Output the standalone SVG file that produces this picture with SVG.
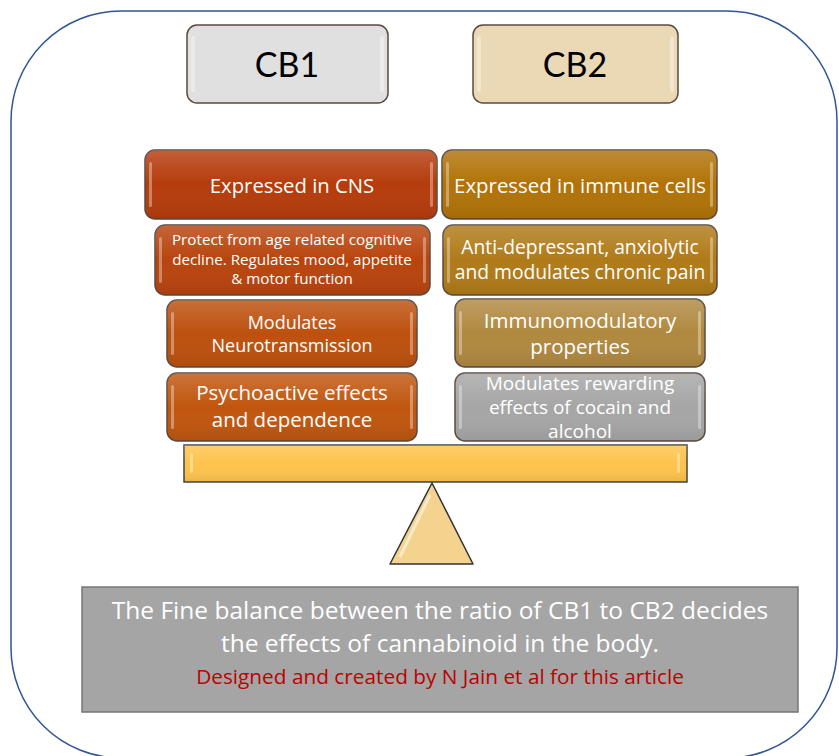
<svg xmlns="http://www.w3.org/2000/svg" width="839" height="756" viewBox="0 0 839 756">
<defs>
<style>
.t{font-family:"Open Sans","Noto Sans","Liberation Sans",sans-serif;text-anchor:middle;fill:#ffffff}
.c{font-family:Lato,"Liberation Sans",sans-serif;text-anchor:middle;fill:#000000}
.box{stroke:#5a4a40;stroke-width:1.5}
.hl{fill:#ffffff;opacity:0.35}
</style>
<linearGradient id="gloss" x1="0" y1="0" x2="0" y2="1">
<stop offset="0" stop-color="#ffffff" stop-opacity="0.18"/>
<stop offset="0.5" stop-color="#ffffff" stop-opacity="0"/>
<stop offset="1" stop-color="#000000" stop-opacity="0.08"/>
</linearGradient>
</defs>
<rect x="11" y="11" width="826" height="747" rx="110" ry="110" fill="none" stroke="#2f5597" stroke-width="1.5"/>
<g id="connectors"></g>
<g id="cb1">
<rect class="box" x="187" y="25" width="201" height="78" rx="10" fill="#e0e0e0" stroke="#555"/>
<rect class="hl" x="191" y="36" width="4" height="56" rx="2"/>
<rect class="hl" x="380" y="36" width="4" height="56" rx="2" opacity="0.7"/>
<text class="c" x="287" y="77" font-size="34">CB1</text>
</g>
<g id="cb2">
<rect class="box" x="473" y="25" width="205" height="78" rx="10" fill="#ebd9b5" stroke="#555"/>
<rect class="hl" x="477" y="36" width="4" height="56" rx="2"/>
<rect class="hl" x="670" y="36" width="4" height="56" rx="2" opacity="0.7"/>
<text class="c" x="575" y="77" font-size="34">CB2</text>
</g>
<g id="l1">
<rect class="box" x="145" y="150" width="292" height="69" rx="10" fill="#b53c0c"/>
<rect x="145" y="150" width="292" height="69" rx="10" fill="url(#gloss)"/>
<rect class="hl" x="149" y="162" width="3" height="45" rx="1.5"/>
<rect class="hl" x="430" y="162" width="3" height="45" rx="1.5"/>
<text class="t" x="292" y="193" font-size="20.3">Expressed in CNS</text>
</g>
<g id="l2">
<rect class="box" x="155" y="225" width="275" height="70" rx="10" fill="#b8440e"/>
<rect x="155" y="225" width="275" height="70" rx="10" fill="url(#gloss)"/>
<rect class="hl" x="159" y="237" width="3" height="46" rx="1.5"/>
<rect class="hl" x="423" y="237" width="3" height="46" rx="1.5"/>
<text class="t" x="292" y="245" font-size="15.2">Protect from age related cognitive</text>
<text class="t" x="292" y="264.5" font-size="15.2">decline. Regulates mood, appetite</text>
<text class="t" x="292" y="284" font-size="15.2">&amp; motor function</text>
</g>
<g id="l3">
<rect class="box" x="167" y="300" width="250" height="67" rx="10" fill="#bd500e"/>
<rect x="167" y="300" width="250" height="67" rx="10" fill="url(#gloss)"/>
<rect class="hl" x="171" y="312" width="3" height="43" rx="1.5"/>
<rect class="hl" x="410" y="312" width="3" height="43" rx="1.5"/>
<text class="t" x="292" y="329" font-size="18">Modulates</text>
<text class="t" x="292" y="352" font-size="18">Neurotransmission</text>
</g>
<g id="l4">
<rect class="box" x="167" y="373" width="250" height="68" rx="10" fill="#c0560f"/>
<rect x="167" y="373" width="250" height="68" rx="10" fill="url(#gloss)"/>
<rect class="hl" x="171" y="385" width="3" height="44" rx="1.5"/>
<rect class="hl" x="410" y="385" width="3" height="44" rx="1.5"/>
<text class="t" x="292" y="400" font-size="20.5">Psychoactive effects</text>
<text class="t" x="292" y="427" font-size="20.5">and dependence</text>
</g>
<g id="r1">
<rect class="box" x="442" y="150" width="275" height="69" rx="10" fill="#b17308"/>
<rect x="442" y="150" width="275" height="69" rx="10" fill="url(#gloss)"/>
<rect class="hl" x="446" y="162" width="3" height="45" rx="1.5"/>
<rect class="hl" x="710" y="162" width="3" height="45" rx="1.5"/>
<text class="t" x="580" y="193" font-size="20.4">Expressed in immune cells</text>
</g>
<g id="r2">
<rect class="box" x="443" y="225" width="274" height="70" rx="10" fill="#b07a18"/>
<rect x="443" y="225" width="274" height="70" rx="10" fill="url(#gloss)"/>
<rect class="hl" x="447" y="237" width="3" height="46" rx="1.5"/>
<rect class="hl" x="710" y="237" width="3" height="46" rx="1.5"/>
<text class="t" x="580" y="254" font-size="19.3">Anti-depressant, anxiolytic</text>
<text class="t" x="580" y="279" font-size="19.3">and modulates chronic pain</text>
</g>
<g id="r3">
<rect class="box" x="455" y="299" width="250" height="68" rx="10" fill="#b08940"/>
<rect x="455" y="299" width="250" height="68" rx="10" fill="url(#gloss)"/>
<rect class="hl" x="459" y="311" width="3" height="44" rx="1.5"/>
<rect class="hl" x="698" y="311" width="3" height="44" rx="1.5"/>
<text class="t" x="580" y="328" font-size="20.5">Immunomodulatory</text>
<text class="t" x="580" y="354" font-size="20.5">properties</text>
</g>
<g id="r4">
<rect class="box" x="455" y="373" width="250" height="68" rx="10" fill="#a6a6a6" stroke="#555"/>
<rect x="455" y="373" width="250" height="68" rx="10" fill="url(#gloss)"/>
<rect class="hl" x="459" y="385" width="3" height="44" rx="1.5"/>
<rect class="hl" x="698" y="385" width="3" height="44" rx="1.5"/>
<text class="t" x="580" y="390" font-size="19">Modulates rewarding</text>
<text class="t" x="580" y="414" font-size="19">effects of cocain and</text>
<text class="t" x="580" y="438" font-size="19">alcohol</text>
</g>
<g id="beam">
<rect x="184" y="445" width="503" height="37" fill="#fec34c" stroke="#444" stroke-width="1.5"/>
<rect x="184" y="445" width="503" height="37" fill="url(#gloss)"/>
<rect class="hl" x="190" y="453" width="3" height="20" rx="1.5" opacity="0.6"/>
<rect class="hl" x="677" y="453" width="3" height="20" rx="1.5" opacity="0.6"/>
</g>
<g id="fulcrum">
<polygon points="432,483 390,564 473,564" fill="#f3d38d" stroke="#333" stroke-width="1.5" stroke-linejoin="round"/>
<polyline points="430,495 400,557" fill="none" stroke="#ffffff" stroke-width="3" opacity="0.5"/>
</g>
<g id="summary">
<rect x="82" y="587" width="716" height="125" fill="#a5a5a5" stroke="#777" stroke-width="1.5"/>
<text class="t" x="440" y="619" font-size="24.5">The Fine balance between the ratio of CB1 to CB2 decides</text>
<text class="t" x="440" y="652" font-size="24.5">the effects of cannabinoid in the body.</text>
<text class="t" x="440" y="684" font-size="20.8" style="fill:#c00000">Designed and created by N Jain et al for this article</text>
</g>
</svg>
